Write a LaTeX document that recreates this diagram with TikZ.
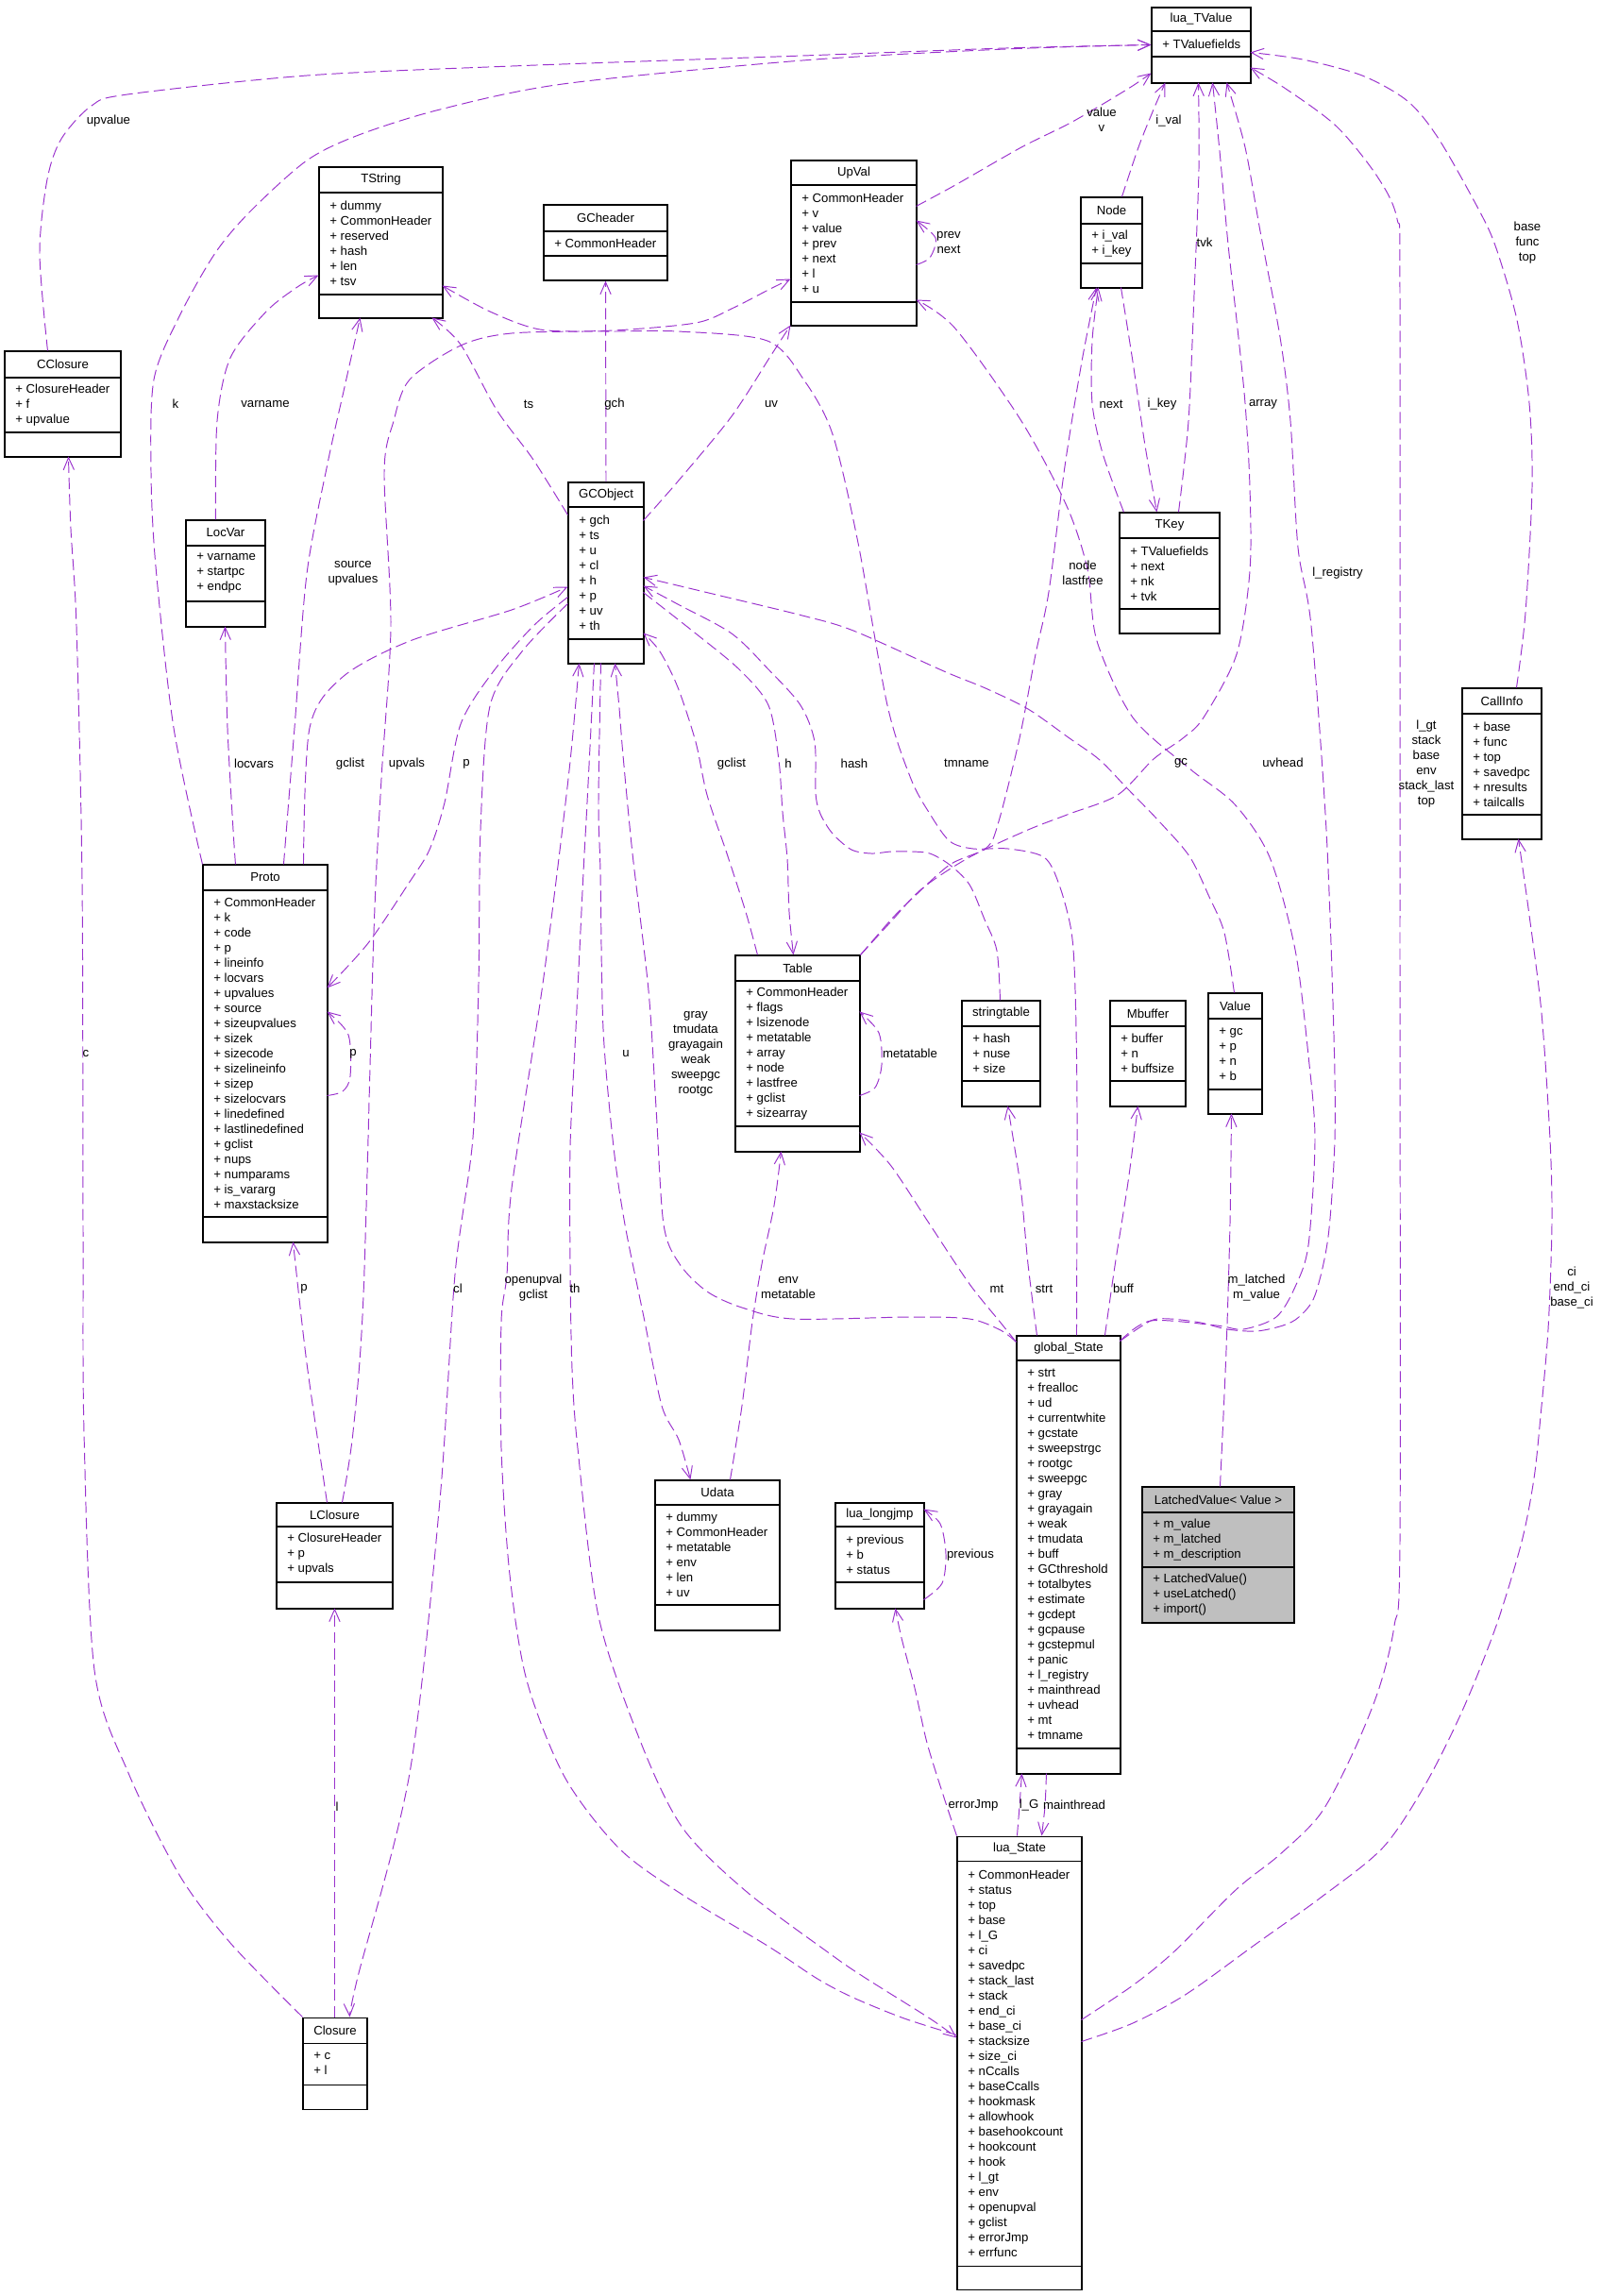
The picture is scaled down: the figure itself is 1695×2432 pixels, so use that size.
\documentclass[tikz,border=0pt]{standalone}
\usepackage{fontspec}
\setmainfont{Liberation Sans}
\usetikzlibrary{arrows.meta,calc,fit}
\definecolor{relcolor}{HTML}{9A32CD}
\definecolor{latchfill}{HTML}{BFBFBF}
\tikzset{
  >={Straight Barb[length=7.4pt,width=6.4pt]},
}
% class box: name, x1, y1, x2, y2, title rule, member rule, title, members
\newcommand{\umlclass}[9]{%
  \node[classbox, fit={(#2,#3) (#4,#5)}] (#1) {};
  \draw[classrule] (#2,#6) -- (#4,#6) (#2,#7) -- (#4,#7);
  \node[inner sep=0pt] (#1-name) at ({(#2+#4)/2},{(#3+#6)/2}) {#8};
  \node[members] (#1-attr) at ({#2+11},{(#6+#7)/2}) {#9};
}

\begin{document}
\begin{tikzpicture}[
  x=0.02cm, y=-0.02cm,
  font=\fontsize{7.5}{9.1}\selectfont,
  classbox/.style={draw, line width=0.6pt, fill=white, inner sep=0pt},
  classrule/.style={line width=0.6pt},
  members/.style={anchor=west, align=left, inner sep=0pt},
  rel/.style={->, draw=relcolor, line width=0.55pt, dash pattern=on 6.8pt off 3pt},
  lbl/.style={align=center, inner sep=0pt}
]
\useasboundingbox (0,0) rectangle (1695,2432);

\umlclass{ltv}{1220}{8}{1325}{88}{33}{60}{lua\_TValue}{+ TValuefields}
\umlclass{tstring}{338}{177}{469}{337}{204}{312}{TString}{+ dummy\\+ CommonHeader\\+ reserved\\+ hash\\+ len\\+ tsv}
\umlclass{gcheader}{576}{217}{707}{297}{245}{271}{GCheader}{+ CommonHeader}
\umlclass{upval}{838}{170}{971}{345}{196}{320}{UpVal}{+ CommonHeader\\+ v\\+ value\\+ prev\\+ next\\+ l\\+ u}
\umlclass{tnode}{1145}{209}{1210}{305}{237}{279}{Node}{+ i\_val\\+ i\_key}
\umlclass{tkey}{1186}{543}{1292}{671}{570}{645}{TKey}{+ TValuefields\\+ next\\+ nk\\+ tvk}
\umlclass{cclosure}{5}{372}{128}{484}{400}{458}{CClosure}{+ ClosureHeader\\+ f\\+ upvalue}
\umlclass{locvar}{197}{551}{281}{664}{578}{637}{LocVar}{+ varname\\+ startpc\\+ endpc}
\umlclass{gcobject}{602}{511}{682}{703}{537}{677}{GCObject}{+ gch\\+ ts\\+ u\\+ cl\\+ h\\+ p\\+ uv\\+ th}
\umlclass{callinfo}{1549}{729}{1633}{889}{756}{863}{CallInfo}{+ base\\+ func\\+ top\\+ savedpc\\+ nresults\\+ tailcalls}
\umlclass{proto}{215}{916}{347}{1316}{943}{1289}{Proto}{+ CommonHeader\\+ k\\+ code\\+ p\\+ lineinfo\\+ locvars\\+ upvalues\\+ source\\+ sizeupvalues\\+ sizek\\+ sizecode\\+ sizelineinfo\\+ sizep\\+ sizelocvars\\+ linedefined\\+ lastlinedefined\\+ gclist\\+ nups\\+ numparams\\+ is\_vararg\\+ maxstacksize}
\umlclass{table}{779}{1012}{911}{1220}{1039}{1193}{Table}{+ CommonHeader\\+ flags\\+ lsizenode\\+ metatable\\+ array\\+ node\\+ lastfree\\+ gclist\\+ sizearray}
\umlclass{strtable}{1019}{1060}{1102}{1172}{1087}{1145}{stringtable}{+ hash\\+ nuse\\+ size}
\umlclass{mbuffer}{1176}{1060}{1256}{1172}{1087}{1145}{Mbuffer}{+ buffer\\+ n\\+ buffsize}
\umlclass{value}{1280}{1052}{1337}{1180}{1079}{1154}{Value}{+ gc\\+ p\\+ n\\+ b}
\umlclass{gstate}{1077}{1415}{1187}{1879}{1441}{1852}{global\_State}{+ strt\\+ frealloc\\+ ud\\+ currentwhite\\+ gcstate\\+ sweepstrgc\\+ rootgc\\+ sweepgc\\+ gray\\+ grayagain\\+ weak\\+ tmudata\\+ buff\\+ GCthreshold\\+ totalbytes\\+ estimate\\+ gcdept\\+ gcpause\\+ gcstepmul\\+ panic\\+ l\_registry\\+ mainthread\\+ uvhead\\+ mt\\+ tmname}
\begin{scope}[classbox/.append style={fill=latchfill}]
\umlclass{latched}{1210}{1575}{1371}{1719}{1602}{1660}{LatchedValue< Value >}{+ m\_value\\+ m\_latched\\+ m\_description}
\end{scope}
\node[members] (latched-ops) at (1221,1689.5) {+ LatchedValue()\\+ useLatched()\\+ import()};
\umlclass{longjmp}{885}{1592}{979}{1704}{1617}{1676}{lua\_longjmp}{+ previous\\+ b\\+ status}
\umlclass{udata}{694}{1568}{826}{1727}{1594}{1700}{Udata}{+ dummy\\+ CommonHeader\\+ metatable\\+ env\\+ len\\+ uv}
\umlclass{lclosure}{293}{1592}{416}{1704}{1617}{1676}{LClosure}{+ ClosureHeader\\+ p\\+ upvals}
\umlclass{closure}{321}{2137}{389}{2234}{2164}{2208}{Closure}{+ c\\+ l}
\umlclass{lstate}{1014}{1945}{1146}{2425}{1971}{2400}{lua\_State}{+ CommonHeader\\+ status\\+ top\\+ base\\+ l\_G\\+ ci\\+ savedpc\\+ stack\_last\\+ stack\\+ end\_ci\\+ base\_ci\\+ stacksize\\+ size\_ci\\+ nCcalls\\+ baseCcalls\\+ hookmask\\+ allowhook\\+ basehookcount\\+ hookcount\\+ hook\\+ l\_gt\\+ env\\+ openupval\\+ gclist\\+ errorJmp\\+ errfunc}

% to lua_TValue
\draw[rel] plot[smooth] coordinates {($(cclosure.north west)+(46,0)$) (42,268) (50,190) (65,147) (97,112) (135,100) (325,80) (542,70) (850,59) (1065,51) ($(ltv.north west)+(0,40)$)};
\draw[rel] plot[smooth] coordinates {(proto.north west) (184,771) (165,600) (160,500) (163,402) (190,335) (228,268) (266,223) (325,170) (380,143) (466,116) (596,89) (850,64) (1065,52) ($(ltv.north west)+(0,40)$)};
\draw[rel] plot[smooth] coordinates {($(upval.north west)+(133,49)$) (1012,196) (1082,156) (1136,129) (1195,94) ($(ltv.north west)+(0,70)$)};
\draw[rel] plot[smooth] coordinates {($(tnode.north west)+(44,0)$) (1206,156) (1222,116) ($(ltv.north west)+(15,80)$)};
\draw[rel] plot[smooth] coordinates {($(tkey.north west)+(63,0)$) (1259,446) (1265,312) (1270,179) ($(ltv.north west)+(50,80)$)};
\draw[rel] plot[smooth] coordinates {(table.north east) (944,976) (977,941) (1027,908) (1089,879) (1133,862) (1184,842) (1222,804) (1253,782) (1275,760) (1310,693) (1324,605) (1324,516) (1319,427) (1310,339) (1301,259) (1292,160) ($(ltv.north west)+(65,80)$)};
\draw[rel] plot[smooth] coordinates {($(gstate.north west)+(110,6)$) (1219,1399) (1240,1397) (1272,1401) (1300,1408) (1331,1410) (1359,1404) (1376,1395) (1393,1372) (1407,1310) (1414,1207) (1413,1096) (1405,879) (1389,663) (1375,580) (1367,446) (1356,357) (1335,245) (1319,156) ($(ltv.north west)+(80,80)$)};
\draw[rel] plot[smooth] coordinates {($(callinfo.north west)+(58,0)$) (1616,649) (1623,516) (1620,427) (1607,339) (1585,263) (1567,223) (1524,147) (1491,107) (1443,80) (1380,63) ($(ltv.north west)+(105,48)$)};
\draw[rel] plot[smooth] coordinates {($(lstate.north west)+(132,195)$) (1200,2103) (1244,2067) (1310,2001) (1355,1965) (1399,1921) (1434,1855) (1461,1788) (1477,1722) (1483,1633) (1483,1000) (1483,312) (1480,232) (1459,187) (1416,134) (1362,94) ($(ltv.north west)+(105,64)$)};

% to TString
\draw[rel] plot[smooth] coordinates {($(locvar.north west)+(32,0)$) (230,446) (244,379) (282,330) (315,304) ($(tstring.north west)+(0,115)$)};
\draw[rel] plot[smooth] coordinates {($(proto.north west)+(86,0)$) (312,771) (325,608) (347,491) (365,410) ($(tstring.north west)+(44,160)$)};
\draw[rel] plot[smooth] coordinates {($(gcobject.north west)+(0,35)$) (565,487) (526,434) (488,365) ($(tstring.north west)+(120,160)$)};
\draw[rel] plot[smooth] coordinates {($(gstate.north west)+(64,0)$) (1141,1173) (1139,1049) (1135,987) (1122,937) (1106,908) (1068,899) (1031,899) (1006,891) (985,862) (965,825) (940,747) (909,575) (882,460) (852,403) (813,361) (718,351) (641,351) (572,349) (519,330) ($(tstring.north west)+(131,126)$)};

% from GCObject
\draw[rel] (gcobject.north) -- (gcheader.south);
\draw[rel] plot[smooth] coordinates {($(gcobject.north west)+(80,41)$) (718,510) (775,441) (817,376) ($(upval.north west)+(0,175)$)};
\draw[rel] plot[smooth] coordinates {($(gcobject.north west)+(80,117)$) (737,671) (783,709) (814,747) (825,805) (829,860) (834,910) (836,966) ($(table.north west)+(62,0)$)};
\draw[rel] plot[smooth] coordinates {($(gcobject.north west)+(0,122)$) (565,663) (522,712) (488,767) (471,850) (455,900) (434,934) (390,999) ($(proto.north west)+(132,131)$)};
\draw[rel] plot[smooth] coordinates {($(gcobject.north west)+(0,129)$) (553,690) (519,748) (509,879) (507,1042) (501,1205) (482,1350) (466,1589) (434,1878) (379,2094) ($(closure.north west)+(50,0)$)};
\draw[rel] plot[smooth] coordinates {($(gcobject.north west)+(28,192)$) (622,850) (618,924) (610,1090) (604,1215) (604,1339) (606,1450) (612,1534) (634,1712) (679,1846) (723,1936) (790,2003) (880,2070) (915,2094) (985,2138) ($(lstate.north west)+(0,214)$)};
\draw[rel] plot[smooth] coordinates {($(gcobject.north west)+(35,192)$) (634,850) (636,924) (639,1090) (650,1215) (662,1297) (683,1400) (701,1489) (719,1525) ($(udata.north west)+(38,0)$)};

% to GCObject
\draw[rel] plot[smooth] coordinates {($(strtable.north west)+(41,0)$) (1056,1007) (1043,974) (1027,937) (1006,916) (985,904) (965,902) (944,902) (923,904) (902,900) (882,883) (869,862) (864,840) (863,786) (848,747) (814,709) (775,671) (718,640) ($(gcobject.north west)+(80,110)$)};
\draw[rel] plot[smooth] coordinates {($(value.north west)+(28,0)$) (1297,988) (1281,950) (1260,907) (1227,869) (1195,836) (1165,805) (1133,782) (1089,751) (1044,729) (1000,711) (904,668) (850,652) (759,630) ($(gcobject.north west)+(80,101)$)};
\draw[rel] plot[smooth] coordinates {($(table.north west)+(24,0)$) (790,966) (770,904) (749,842) (737,786) (718,728) (699,690) ($(gcobject.north west)+(80,160)$)};
\draw[rel] plot[smooth] coordinates {($(proto.north west)+(107,0)$) (328,771) (363,717) (434,679) (542,646) ($(gcobject.north west)+(0,111)$)};
\draw[rel] plot[smooth] coordinates {($(lstate.north west)+(0,211)$) (958,2138) (904,2116) (866,2096) (813,2061) (723,2007) (656,1958) (598,1882) (558,1780) (540,1668) (531,1534) (531,1400) (537,1350) (542,1259) (575,1042) (602,825) ($(gcobject.north west)+(12,192)$)};
\draw[rel] plot[smooth] coordinates {($(gstate.north west)+(0,7)$) (1060,1409) (1027,1397) (965,1395) (840,1397) (786,1385) (749,1368) (720,1339) (703,1297) (695,1173) (687,1049) (670,904) (660,800) (656,750) ($(gcobject.north west)+(50,192)$)};

% UpVal
\draw[rel] plot[smooth] coordinates {($(upval.north west)+(133,111)$) (985,273) (991,252) ($(upval.north west)+(133,64)$)};
\draw[rel] plot[smooth] coordinates {($(lclosure.north west)+(70,0)$) (374,1517) (385,1372) (396,988) (404,825) (414,663) (407,500) (417,446) (434,402) (488,366) (542,353) (650,350) (737,342) (775,327) (814,307) ($(upval.north west)+(0,126)$)};
\draw[rel] plot[smooth] coordinates {($(gstate.north west)+(110,6)$) (1219,1399) (1289,1404) (1317,1408) (1352,1395) (1372,1363) (1386,1319) (1393,1207) (1386,1118) (1372,1006) (1345,908) (1308,852) (1260,814) (1200,760) (1162,679) (1152,603) (1130,536) (1082,446) (1012,348) ($(upval.north west)+(133,148)$)};

% Node and TKey
\draw[rel] plot[smooth] coordinates {($(tkey.north west)+(5,0)$) (1168,480) (1157,427) (1157,361) ($(tnode.north west)+(19,96)$)};
\draw[rel] plot[smooth] coordinates {($(tnode.north west)+(43,96)$) (1200,383) (1213,472) ($(tkey.north west)+(40,0)$)};
\draw[rel] plot[smooth] coordinates {(table.north east) (944,974) (965,953) (1006,916) (1045,898) (1058,870) (1080,782) (1097,693) (1111,627) (1128,494) (1146,383) ($(tnode.north west)+(17,96)$)};

% CallInfo
\draw[rel] plot[smooth] coordinates {($(lstate.north west)+(132,218)$) (1200,2143) (1257,2112) (1332,2058) (1399,2010) (1465,1957) (1510,1890) (1550,1810) (1585,1722) (1612,1633) (1625,1566) (1632,1500) (1640,1408) (1644,1296) (1642,1207) (1633,1073) (1619,962) ($(callinfo.north west)+(60,160)$)};

% Proto, LocVar, closures
\draw[rel] plot[smooth] coordinates {($(proto.north west)+(35,0)$) (247,879) (241,771) ($(locvar.north west)+(42,113)$)};
\draw[rel] plot[smooth] coordinates {($(proto.north west)+(132,245)$) (363,1156) (371,1140) (369,1096) ($(proto.north west)+(132,156)$)};
\draw[rel] plot[smooth] coordinates {($(lclosure.north west)+(54,0)$) (325,1444) ($(proto.north west)+(96,400)$)};
\draw[rel] plot[smooth] coordinates {(closure.north west) (244,2058) (190,1986) (136,1878) (100,1769) (89,1517) (88,1300) (87,934) (81,663) (75,560) ($(cclosure.north west)+(68,112)$)};
\draw[rel] ($(closure.north west)+(34,0)$) -- ($(lclosure.north west)+(62,112)$);

% Table
\draw[rel] plot[smooth] coordinates {($(table.north west)+(132,149)$) (927,1152) (934,1128) (931,1094) ($(table.north west)+(132,60)$)};
\draw[rel] plot[smooth] coordinates {($(udata.north west)+(80,0)$) (786,1489) (797,1400) (807,1339) (820,1277) ($(table.north west)+(49,208)$)};
\draw[rel] plot[smooth] coordinates {($(gstate.north west)+(0,7)$) (1060,1401) (1027,1360) (985,1297) (944,1235) ($(table.north west)+(132,188)$)};

% global_State members
\draw[rel] plot[smooth] coordinates {($(gstate.north west)+(22,0)$) (1089,1339) (1081,1256) ($(strtable.north west)+(49,112)$)};
\draw[rel] plot[smooth] coordinates {($(gstate.north west)+(94,0)$) (1181,1341) (1195,1252) ($(mbuffer.north west)+(30,112)$)};
\draw[rel] plot[smooth] coordinates {($(latched.north west)+(83,0)$) (1299,1430) (1303,1296) ($(value.north west)+(25,128)$)};

% lua_State and lua_longjmp
\draw[rel] plot[smooth] coordinates {(lstate.north west) (1000,1904) (982,1846) (969,1788) (955,1735) ($(longjmp.north west)+(64,112)$)};
\draw[rel] plot[smooth] coordinates {($(longjmp.north west)+(94,103)$) (998,1677) (1002,1646) (996,1614) ($(longjmp.north west)+(94,7)$)};
\draw[rel] plot[smooth] coordinates {($(lstate.north west)+(64,0)$) (1080,1913) ($(gstate.north west)+(6,464)$)};
\draw[rel] plot[smooth] coordinates {($(gstate.north west)+(32,464)$) (1107,1913) ($(lstate.north west)+(90,0)$)};

% labels
\node[lbl] (l-upvalue) at (115,128) {upvalue};
\node[lbl] (l-k) at (186,428) {k};
\node[lbl] (l-varname) at (281,428) {varname};
\node[lbl] (l-source) at (374,607) {source\\upvalues};
\node[lbl] (l-ts) at (560,428) {ts};
\node[lbl] (l-gch) at (651,428) {gch};
\node[lbl] (l-uv) at (817,428) {uv};
\node[lbl] (l-upvals) at (431,809) {upvals};
\node[lbl] (l-tmname) at (1024,808) {tmname};
\node[lbl] (l-value) at (1167,127) {value\\v};
\node[lbl] (l-prevnext) at (1005,257) {prev\\next};
\node[lbl] (l-ival) at (1238,128) {i\_val};
\node[lbl] (l-tvk) at (1276,257) {tvk};
\node[lbl] (l-next) at (1177,428) {next};
\node[lbl] (l-ikey) at (1231,428) {i\_key};
\node[lbl] (l-array) at (1338,428) {array};
\node[lbl] (l-registry) at (1417,607) {l\_registry};
\node[lbl] (l-cibase) at (1618,257) {base\\func\\top};
\node[lbl] (l-lgt) at (1511,809) {l\_gt\\stack\\base\\env\\stack\_last\\top};
\node[lbl] (l-ci) at (1665,1364) {ci\\end\_ci\\base\_ci};
\node[lbl] (l-node) at (1147,607) {node\\lastfree};
\node[lbl] (l-hash) at (905,809) {hash};
\node[lbl] (l-gc) at (1251,808) {gc};
\node[lbl] (l-uvhead) at (1359,808) {uvhead};
\node[lbl] (l-tgclist) at (775,809) {gclist};
\node[lbl] (l-h) at (835,809) {h};
\node[lbl] (l-locvars) at (269,809) {locvars};
\node[lbl] (l-pgclist) at (371,809) {gclist};
\node[lbl] (l-p) at (494,809) {p};
\node[lbl] (l-ploop) at (374,1116) {p};
\node[lbl] (l-c) at (91,1116) {c};
\node[lbl] (l-cl) at (485,1365) {cl};
\node[lbl] (l-lp) at (322,1365) {p};
\node[lbl] (l-l) at (357,1914) {l};
\node[lbl] (l-openupval) at (565,1364) {openupval\\gclist};
\node[lbl] (l-th) at (609,1365) {th};
\node[lbl] (l-u) at (663,1116) {u};
\node[lbl] (l-gray) at (737,1116) {gray\\tmudata\\grayagain\\weak\\sweepgc\\rootgc};
\node[lbl] (l-env) at (835,1364) {env\\metatable};
\node[lbl] (l-mt) at (1056,1365) {mt};
\node[lbl] (l-strt) at (1106,1365) {strt};
\node[lbl] (l-buff) at (1190,1365) {buff};
\node[lbl] (l-latched) at (1331,1364) {m\_latched\\m\_value};
\node[lbl] (l-metatable) at (964,1116) {metatable};
\node[lbl] (l-errorjmp) at (1031,1912) {errorJmp};
\node[lbl] (l-previous) at (1028,1647) {previous};
\node[lbl] (l-lg) at (1090,1912) {l\_G};
\node[lbl] (l-mainthread) at (1138,1912) {mainthread};
\end{tikzpicture}
\end{document}
